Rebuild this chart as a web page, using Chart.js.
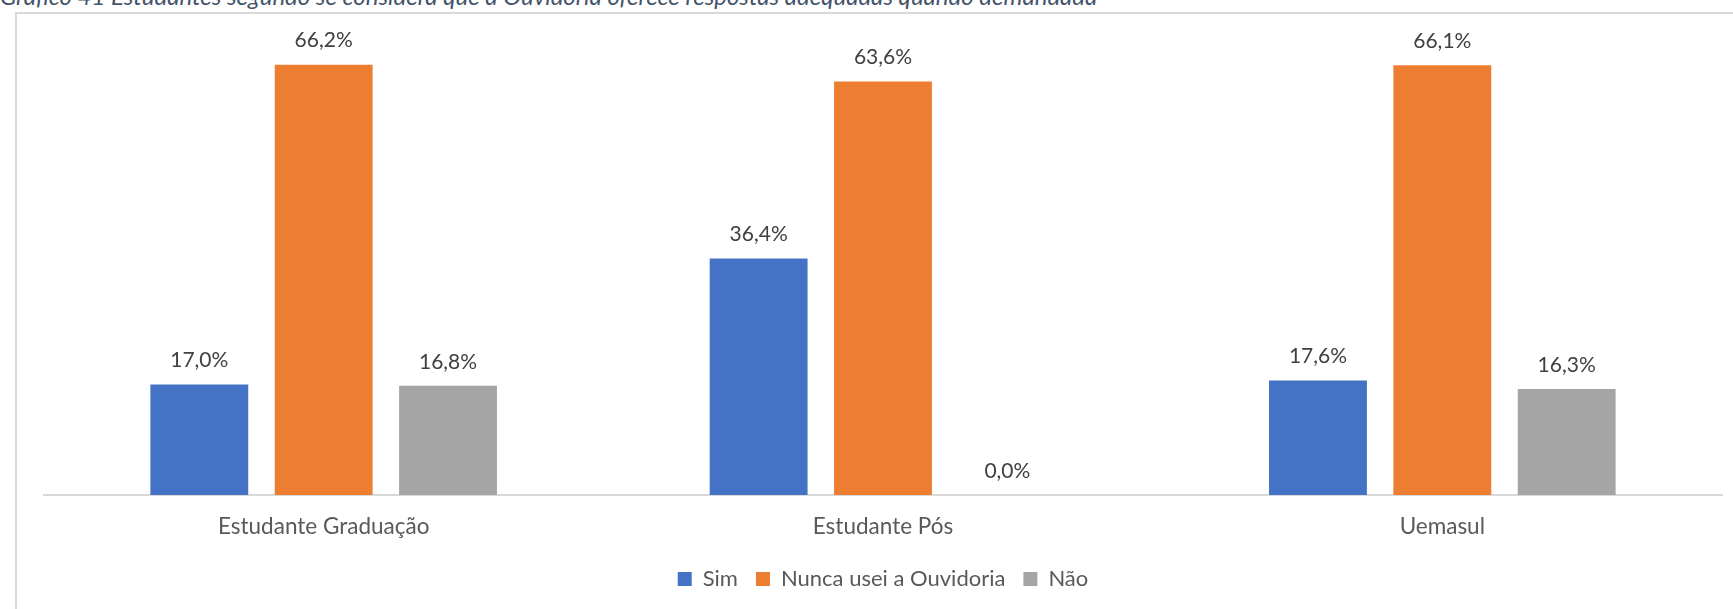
<!DOCTYPE html>
<html>
<head>
<meta charset="utf-8">
<script src="https://cdn.jsdelivr.net/npm/chart.js@4/dist/chart.umd.min.js"></script>
<style>
  html, body { margin: 0; padding: 0; background: #fff; overflow: hidden; }
  #wrap { position: relative; width: 1733px; height: 609px; }
  #title {
    position: absolute; left: 0; top: -16px; margin: 0;
    font: italic 24px/24px Lato, sans-serif; color: #44546A; white-space: nowrap;
  }
  #box {
    position: absolute; left: 15px; top: 12px; width: 1730px; height: 620px;
    border-left: 2px solid #d9d9d9; border-top: 2px solid #d9d9d9;
  }
  #chart { position: absolute; left: 0; top: 0; }
</style>
</head>
<body>
<div id="wrap">
  <p id="title">Gráfico 41 Estudantes segundo se considera que a Ouvidoria oferece respostas adequadas quando demandada</p>
  <div id="box"></div>
  <canvas id="chart" width="1733" height="609"></canvas>
</div>
<script>
const categories = ['Estudante Graduação', 'Estudante Pós', 'Uemasul'];
const seriesNames = ['Sim', 'Nunca usei a Ouvidoria', 'Não'];
const simValues = [17.0, 36.4, 17.6];
const nuncaValues = [66.2, 63.6, 66.1];
const naoValues = [16.8, 0.0, 16.3];
const colours = ['#4472C4', '#ED7D31', '#A5A5A5'];

// draws the "17,0%" labels above each bar
const valueLabels = {
  id: 'valueLabels',
  afterDatasetsDraw(chart) {
    const ctx = chart.ctx;
    ctx.save();
    ctx.font = '21px Lato, sans-serif';
    ctx.fillStyle = '#404040';
    ctx.textAlign = 'center';
    ctx.textBaseline = 'middle';
    chart.data.datasets.forEach((ds, i) => {
      chart.getDatasetMeta(i).data.forEach((bar, j) => {
        const txt = ds.data[j].toFixed(1).replace('.', ',') + '%';
        ctx.fillText(txt, bar.x, bar.y - 24);
      });
    });
    ctx.restore();
  }
};

function makeSet(label, data, colour) {
  return {
    label: label,
    data: data,
    backgroundColor: colour,
    borderWidth: 0,
    categoryPercentage: 0.667,
    barPercentage: 0.787
  };
}

const chart = new Chart(document.getElementById('chart'), {
  type: 'bar',
  data: {
    labels: categories,
    datasets: [
      makeSet(seriesNames[0], simValues, colours[0]),
      makeSet(seriesNames[1], nuncaValues, colours[1]),
      makeSet(seriesNames[2], naoValues, colours[2])
    ]
  },
  options: {
    responsive: false,
    animation: false,
    layout: { padding: { left: 44, right: 11, top: 40, bottom: 9 } },
    scales: {
      x: {
        grid: { display: false },
        border: { display: true, color: '#d9d9d9', width: 2 },
        ticks: { color: '#595959', font: { family: 'Lato', size: 22.5 }, padding: 10 }
      },
      y: {
        display: false,
        min: 0,
        max: 70
      }
    },
    plugins: {
      legend: {
        position: 'bottom',
        labels: {
          color: '#595959',
          font: { family: 'Lato', size: 22 },
          boxWidth: 14,
          boxHeight: 14,
          padding: 18
        }
      },
      tooltip: { enabled: false }
    }
  },
  plugins: [valueLabels]
});
</script>
</body>
</html>
